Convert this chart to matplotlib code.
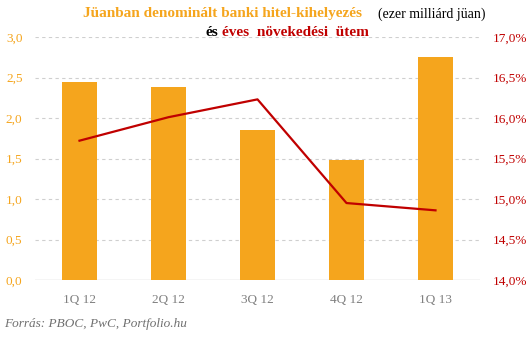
import numpy as np
import matplotlib
matplotlib.use("Agg")
import matplotlib.pyplot as plt

# ---- data ----
quarters = ["1Q 12", "2Q 12", "3Q 12", "4Q 12", "1Q 13"]
loans = [2.44, 2.38, 1.85, 1.48, 2.75]          # ezer milliárd jüan
growth = [15.72, 16.01, 16.23, 14.95, 14.86]    # éves növekedés, %

ORANGE = "#F5A51D"
RED = "#C00000"
GRID = "#CFCFCF"
SERIF = ["Liberation Serif", "DejaVu Serif"]

W, H = 531, 342
fig = plt.figure(figsize=(W / 100, H / 100), dpi=100)
fig.patch.set_facecolor("white")


def px(x, y):
    """pixel position -> figure fraction"""
    return x / W, 1 - y / H


ax = fig.add_axes([35 / W, 1 - 280 / H, 445 / W, 243 / H])
x = np.arange(len(quarters))
ax.bar(x, loans, width=0.4, color=ORANGE, zorder=2)
ax.set_xlim(-0.5, len(quarters) - 0.5)
ax.set_ylim(0, 3.0)
yt = np.arange(0, 3.01, 0.5)
ax.set_yticks(yt)
ax.set_yticklabels([f"{v:.1f}".replace(".", ",") for v in yt])
for v in yt[1:]:
    ax.axhline(v, color=GRID, lw=0.8, ls=(0, (3, 3)), zorder=0)
ax.axhline(0, color=GRID, lw=1.0, zorder=1)
ax.set_xticks(x)
ax.set_xticklabels(quarters)
for s in ax.spines.values():
    s.set_visible(False)
ax.tick_params(axis="y", length=0, pad=9, colors=ORANGE, labelsize=9.5)
ax.tick_params(axis="x", length=0, pad=10, colors="#808080", labelsize=9.5)
for lab in ax.get_yticklabels() + ax.get_xticklabels():
    lab.set_family(SERIF)

ax2 = ax.twinx()
ax2.plot(x, growth, color=RED, lw=1.6, zorder=3)
ax2.set_ylim(14.0, 17.0)
yt2 = np.arange(14.0, 17.01, 0.5)
ax2.set_yticks(yt2)
ax2.set_yticklabels([f"{v:.1f}%".replace(".", ",") for v in yt2])
for s in ax2.spines.values():
    s.set_visible(False)
ax2.tick_params(axis="y", length=0, pad=9, colors=RED, labelsize=9.5)
for lab in ax2.get_yticklabels():
    lab.set_family(SERIF)

# title, two lines with mixed colours
fig.text(*px(83, 14), "Jüanban denominált banki hitel-kihelyezés", color=ORANGE,
         fontsize=11, fontweight="bold", family=SERIF, va="center", ha="left")
fig.text(*px(378, 14), "(ezer milliárd jüan)", color="black",
         fontsize=10, family=SERIF, va="center", ha="left")
fig.text(*px(205, 32), "és", color="black",
         fontsize=11, fontweight="bold", family=SERIF, va="center", ha="left")
fig.text(*px(222, 32), "éves  növekedési  ütem", color=RED,
         fontsize=11, fontweight="bold", family=SERIF, va="center", ha="left")

fig.text(*px(4, 324), "Forrás: PBOC, PwC, Portfolio.hu", color="#707070",
         fontsize=9.5, style="italic", family=SERIF, va="center", ha="left")

fig.savefig("out.png", dpi=100)
